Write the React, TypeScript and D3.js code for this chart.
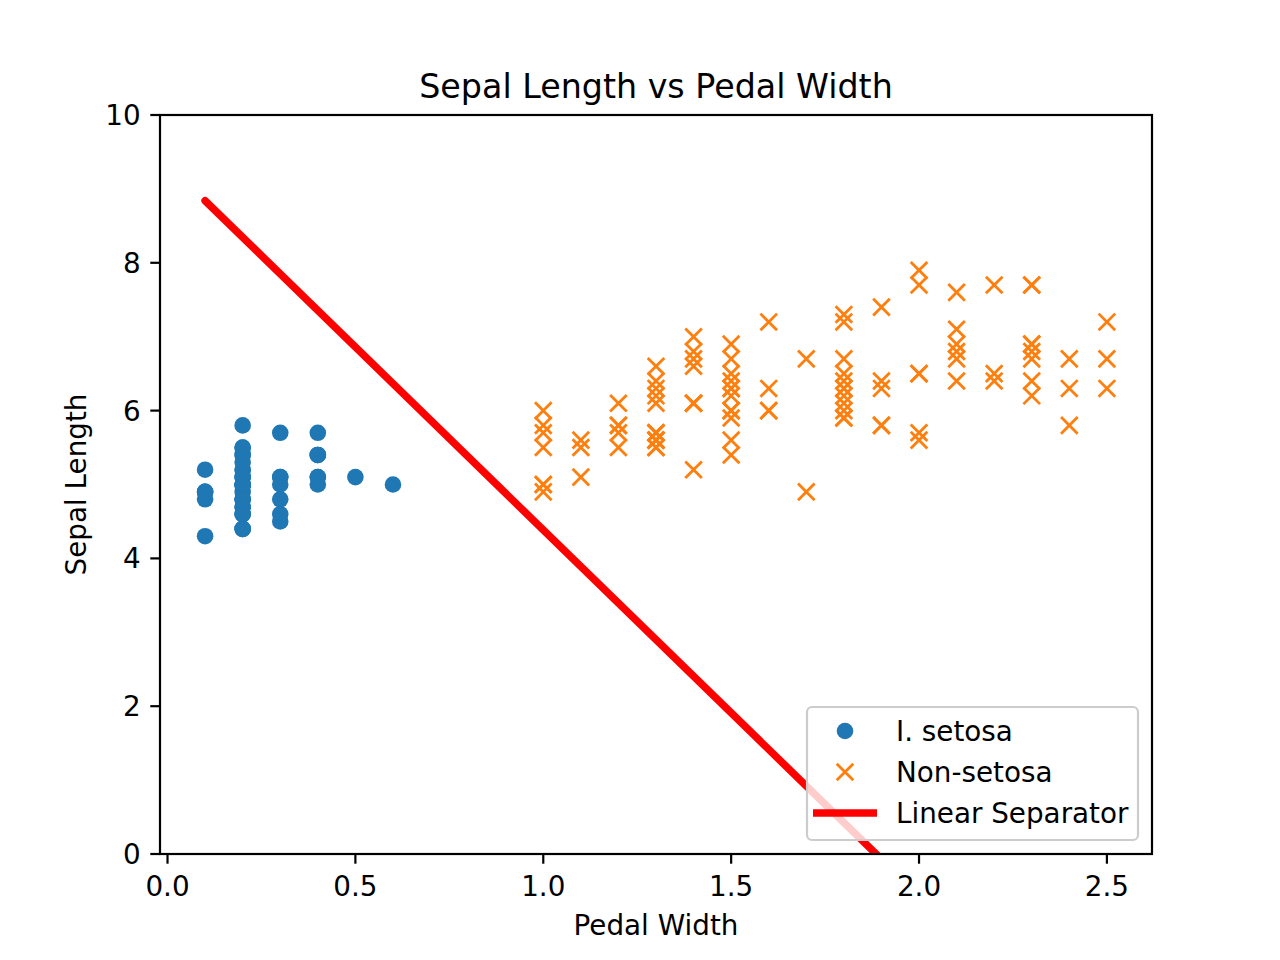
import React from "react";
import * as d3 from "d3";

// Iris data: [petal width, sepal length]
const setosaPetalWidth = [0.2,0.2,0.2,0.2,0.2,0.4,0.3,0.2,0.2,0.1,0.2,0.2,0.1,0.1,0.2,0.4,0.4,0.3,0.3,0.3,0.2,0.4,0.2,0.5,0.2,0.2,0.4,0.2,0.2,0.2,0.2,0.4,0.1,0.2,0.1,0.2,0.2,0.1,0.2,0.2,0.3,0.3,0.2,0.6,0.4,0.3,0.2,0.2,0.2,0.2];
const setosaSepalLength = [5.1,4.9,4.7,4.6,5.0,5.4,4.6,5.0,4.4,4.9,5.4,4.8,4.8,4.3,5.8,5.7,5.4,5.1,5.7,5.1,5.4,5.1,4.6,5.1,4.8,5.0,5.0,5.2,5.2,4.7,4.8,5.4,5.2,5.5,4.9,5.0,5.5,4.9,4.4,5.1,5.0,4.5,4.4,5.0,5.1,4.8,5.1,4.6,5.3,5.0];

const nonSetosaPetalWidth = [1.4,1.5,1.5,1.3,1.5,1.3,1.6,1.0,1.3,1.4,1.0,1.5,1.0,1.4,1.3,1.4,1.5,1.0,1.5,1.1,1.8,1.3,1.5,1.2,1.3,1.4,1.4,1.7,1.5,1.0,1.1,1.0,1.2,1.6,1.5,1.6,1.5,1.3,1.3,1.3,1.2,1.4,1.2,1.0,1.3,1.2,1.3,1.3,1.1,1.3,
  2.5,1.9,2.1,1.8,2.2,2.1,1.7,1.8,1.8,2.5,2.0,1.9,2.1,2.0,2.4,2.3,1.8,2.2,2.3,1.5,2.3,2.0,2.0,1.8,2.1,1.8,1.8,1.8,2.1,1.6,1.9,2.0,2.2,1.5,1.4,2.3,2.4,1.8,1.8,2.1,2.4,2.3,1.9,2.3,2.5,2.3,1.9,2.0,2.3,1.8];
const nonSetosaSepalLength = [7.0,6.4,6.9,5.5,6.5,5.7,6.3,4.9,6.6,5.2,5.0,5.9,6.0,6.1,5.6,6.7,5.6,5.8,6.2,5.6,5.9,6.1,6.3,6.1,6.4,6.6,6.8,6.7,6.0,5.7,5.5,5.5,5.8,6.0,5.4,6.0,6.7,6.3,5.6,5.5,5.5,6.1,5.8,5.0,5.6,5.7,5.7,6.2,5.1,5.7,
  6.3,5.8,7.1,6.3,6.5,7.6,4.9,7.3,6.7,7.2,6.5,6.4,6.8,5.7,5.8,6.4,6.5,7.7,7.7,6.0,6.9,5.6,7.7,6.3,6.7,7.2,6.2,6.1,6.4,7.2,7.4,7.9,6.4,6.3,6.1,7.7,6.3,6.4,6.0,6.9,6.7,6.9,5.8,6.8,6.7,6.7,6.3,6.5,6.2,5.9];

// Linear separator endpoints
const separatorX = [0.1, 1.9];
const separatorY = [8.84, -0.07];

const xTicks = [0.0, 0.5, 1.0, 1.5, 2.0, 2.5];
const yTicks = [0, 2, 4, 6, 8, 10];

const legendLabels = ["I. setosa", "Non-setosa", "Linear Separator"];

const W = 1280, H = 960;
const L = 160, R = 1152, T = 115, B = 854;
const BLUE = "#1f77b4", ORANGE = "#ff7f0e";
const FONT = "DejaVu Sans, sans-serif";

export default function App() {
  const x = d3.scaleLinear().domain([-0.02, 2.62]).range([L, R]);
  const y = d3.scaleLinear().domain([0, 10]).range([B, T]);
  const line = d3.line<number>().x((_, i) => x(separatorX[i])).y((d) => y(d));
  const ms = 8.3; // x-marker half-size
  const xPath = (cx: number, cy: number, s: number) =>
    `M${cx - s},${cy - s}L${cx + s},${cy + s}M${cx - s},${cy + s}L${cx + s},${cy - s}`;

  return (
    <svg width={W} height={H} style={{ position: "absolute", left: 0, top: 0, background: "#fff" }} fontFamily={FONT}>
      <defs>
        <clipPath id="ax">
          <rect x={L} y={T} width={R - L} height={B - T} />
        </clipPath>
      </defs>
      <rect x={0} y={0} width={W} height={H} fill="#fff" />
      <g clipPath="url(#ax)">
        {setosaPetalWidth.map((pw, i) => (
          <circle key={"s" + i} cx={x(pw)} cy={y(setosaSepalLength[i])} r={8.3} fill={BLUE} />
        ))}
        {nonSetosaPetalWidth.map((pw, i) => (
          <path key={"n" + i} d={xPath(x(pw), y(nonSetosaSepalLength[i]), ms)} stroke={ORANGE} strokeWidth={2.8} fill="none" />
        ))}
        <path d={line(separatorY) || ""} stroke="red" strokeWidth={7.5} fill="none" strokeLinecap="round" />
      </g>
      {/* spines */}
      <rect x={L} y={T} width={R - L} height={B - T} fill="none" stroke="#000" strokeWidth={2.2} />
      {/* x ticks */}
      {xTicks.map((t) => (
        <g key={"xt" + t}>
          <line x1={x(t)} x2={x(t)} y1={B} y2={B + 9.7} stroke="#000" strokeWidth={2.2} />
          <text x={x(t)} y={896} textAnchor="middle" fontSize={27.8} fill="#000">{t.toFixed(1)}</text>
        </g>
      ))}
      {yTicks.map((t) => (
        <g key={"yt" + t}>
          <line x1={L - 9.7} x2={L} y1={y(t)} y2={y(t)} stroke="#000" strokeWidth={2.2} />
          <text x={L - 19.4} y={y(t)} dy="0.36em" textAnchor="end" fontSize={27.8} fill="#000">{t}</text>
        </g>
      ))}
      <text x={(L + R) / 2} y={98} textAnchor="middle" fontSize={33.3} fill="#000">Sepal Length vs Pedal Width</text>
      <text x={(L + R) / 2} y={935} textAnchor="middle" fontSize={27.8} fill="#000">Pedal Width</text>
      <text transform={`translate(86,${(T + B) / 2}) rotate(-90)`} textAnchor="middle" fontSize={27.8} fill="#000">Sepal Length</text>
      {/* legend */}
      <g>
        <rect x={807} y={707} width={331} height={133} rx={5} fill="#fff" fillOpacity={0.8} stroke="#cccccc" strokeWidth={2.2} />
        <circle cx={845} cy={731} r={8.3} fill={BLUE} />
        <path d={xPath(845, 772, ms)} stroke={ORANGE} strokeWidth={2.8} fill="none" />
        <line x1={813} x2={877} y1={813} y2={813} stroke="red" strokeWidth={7.5} />
        {legendLabels.map((lab, i) => (
          <text key={lab} x={896} y={741 + i * 41} fontSize={27.8} fill="#000">{lab}</text>
        ))}
      </g>
    </svg>
  );
}
